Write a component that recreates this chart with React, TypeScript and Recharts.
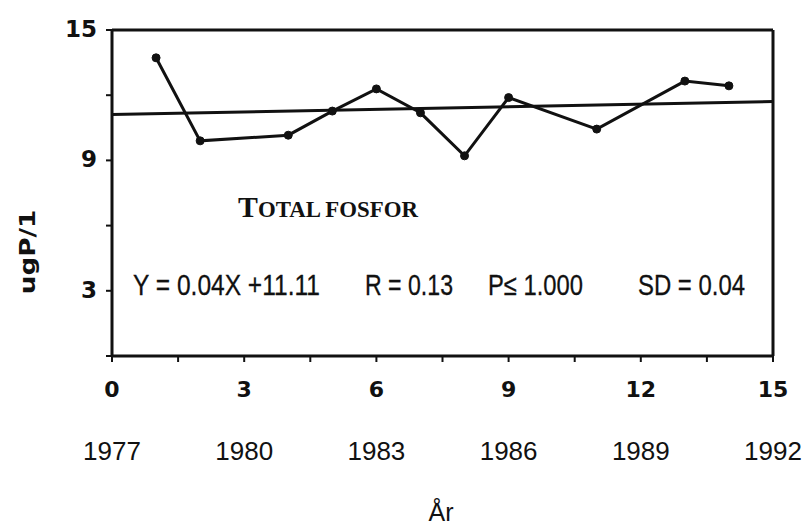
import React from 'react';
import { LineChart, Line, XAxis, YAxis, ReferenceLine, Label, Customized } from 'recharts';

// Data
const xValues = [1, 2, 4, 5, 6, 7, 8, 9, 11, 13, 14];
const phosphorus = [13.72, 9.9, 10.16, 11.27, 12.29, 11.19, 9.21, 11.89, 10.44, 12.65, 12.43];
const xTicks = [0, 1.5, 3, 4.5, 6, 7.5, 9, 10.5, 12, 13.5, 15];
const xLabelTicks = [0, 3, 6, 9, 12, 15];
const baseYear = 1977;
const yTicks = [0, 3, 6, 9, 12, 15];
const yLabelTicks = [3, 9, 15];
const regressionSlope = 0.04;
const regressionIntercept = 11.11;
const titleText = 'Total fosfor';
const statTexts = ['Y = 0.04X +11.11', 'R = 0.13', 'P\u2264 1.000', 'SD = 0.04'];
const yAxisTitle = 'ugP/1';
const xAxisTitle = 'År';

const data = xValues.map((x, i) => ({ x, p: phosphorus[i] }));
const xMin = 0;
const xMax = 15;

const tickFont = '"DejaVu Sans", Verdana, sans-serif';
const sansFont = '"Liberation Sans", Arial, Helvetica, sans-serif';
const serifFont = '"Liberation Serif", "Times New Roman", serif';

const XTick = (props: any) => {
  const { x, y, payload } = props;
  const v = payload.value;
  if (!xLabelTicks.includes(v)) return null;
  return (
    <g>
      <text x={x} y={y + 35} textAnchor="middle" fontFamily={tickFont} fontWeight="bold" fontSize={22} fill="#111">
        {v}
      </text>
      <text x={x} y={y + 98} textAnchor="middle" fontFamily={sansFont} fontSize={26} fill="#111">
        {baseYear + v}
      </text>
    </g>
  );
};

const YTick = (props: any) => {
  const { x, y, payload } = props;
  const v = payload.value;
  if (!yLabelTicks.includes(v)) return null;
  return (
    <text x={x - 9} y={y + 7} textAnchor="end" fontFamily={tickFont} fontWeight="bold" fontSize={23} fill="#111">
      {v}
    </text>
  );
};

const statStyle = { fontFamily: sansFont, fontSize: 29, fill: '#111', stroke: '#111', strokeWidth: 0.3 };

const Annotations = () => (
  <g>
    <text x={238} y={217} fontFamily={serifFont} fontWeight="bold" fill="#111" textLength={180} lengthAdjust="spacingAndGlyphs">
      <tspan fontSize={30}>{titleText.charAt(0).toUpperCase()}</tspan>
      <tspan fontSize={23}>{titleText.slice(1, 5).toUpperCase()}</tspan>
      <tspan fontSize={23}>{' '}</tspan>
      <tspan fontSize={23}>{titleText.slice(6).toUpperCase()}</tspan>
    </text>
    <text x={133} y={295} {...statStyle} textLength={187} lengthAdjust="spacingAndGlyphs">
      {statTexts[0]}
    </text>
    <text x={365} y={295} {...statStyle} textLength={88} lengthAdjust="spacingAndGlyphs">
      {statTexts[1]}
    </text>
    <text x={488} y={295} {...statStyle} textLength={95} lengthAdjust="spacingAndGlyphs">
      {statTexts[2]}
    </text>
    <text x={638} y={295} {...statStyle} textLength={107} lengthAdjust="spacingAndGlyphs">
      {statTexts[3]}
    </text>
  </g>
);

export default function App() {
  return (
    <div style={{ position: 'absolute', left: 0, top: 0, width: 812, height: 526, background: '#fff' }}>
      <LineChart width={812} height={526} data={data} margin={{ top: 30, right: 39, left: 0, bottom: 0 }}>
        <XAxis
          dataKey="x"
          type="number"
          domain={[xMin, xMax]}
          ticks={xTicks}
          interval={0}
          height={170}
          stroke="#111"
          strokeWidth={3}
          tickSize={6}
          tickMargin={0}
          tickLine={{ stroke: '#111', strokeWidth: 2 }}
          tick={<XTick />}
        >
          <Label
            content={(p: any) => {
              const vb = p.viewBox || {};
              return (
                <text x={441} y={(vb.y || 0) + 165} textAnchor="middle" fontFamily={sansFont} fontSize={25} fill="#111">
                  {xAxisTitle}
                </text>
              );
            }}
          />
        </XAxis>
        <YAxis
          type="number"
          domain={[0, 15]}
          ticks={yTicks}
          interval={0}
          width={112}
          stroke="#111"
          strokeWidth={3}
          tickSize={6}
          tickMargin={0}
          tickLine={{ stroke: '#111', strokeWidth: 2 }}
          tick={<YTick />}
        >
          <Label
            content={(p: any) => {
              const vb = p.viewBox || {};
              const cy = (vb.y || 0) + 222;
              return (
                <text
                  x={0}
                  y={0}
                  transform={`translate(35, ${cy}) rotate(-90) scale(1.25, 1)`}
                  textAnchor="middle"
                  fontFamily={tickFont}
                  fontWeight="bold"
                  fontSize={21}
                  fill="#111"
                >
                  {yAxisTitle}
                </text>
              );
            }}
          />
        </YAxis>
        <ReferenceLine y={15} stroke="#111" strokeWidth={3} />
        <ReferenceLine x={15} stroke="#111" strokeWidth={3} />
        <ReferenceLine
          segment={[
            { x: xMin, y: regressionIntercept + regressionSlope * xMin },
            { x: xMax, y: regressionIntercept + regressionSlope * xMax },
          ]}
          stroke="#111"
          strokeWidth={3}
        />
        <Line
          type="linear"
          dataKey="p"
          stroke="#111"
          strokeWidth={3}
          dot={{ r: 4, fill: '#111', stroke: '#111', strokeWidth: 1 }}
          isAnimationActive={false}
        />
        <Customized component={Annotations} />
      </LineChart>
    </div>
  );
}
